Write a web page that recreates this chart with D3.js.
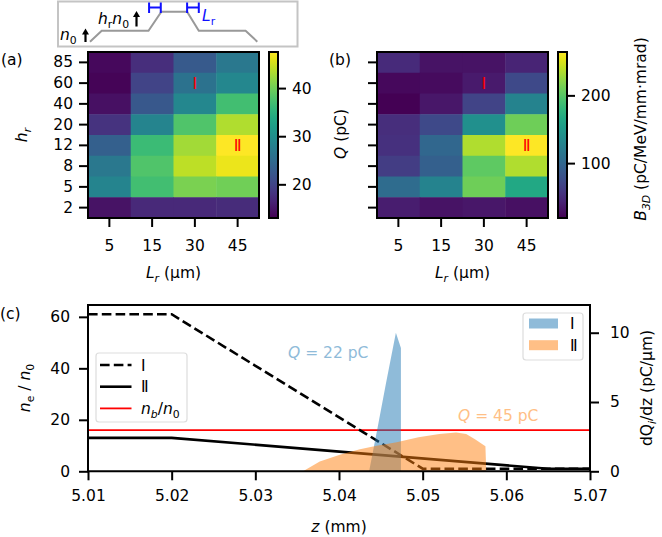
<!DOCTYPE html>
<html>
<head>
<meta charset="utf-8">
<script src="https://cdn.jsdelivr.net/npm/d3@7"></script>
<style>
  body { margin: 0; background: #fff; }
  svg text { font-family: "DejaVu Sans", sans-serif; fill: #000; }
</style>
</head>
<body>
<div id="chart"></div>
<script>
// ---- data ----
const lrLabels = ["5", "15", "30", "45"];
const hrLabels = ["85", "60", "40", "20", "12", "8", "5", "2"];
// rows follow hrLabels (top to bottom), columns follow lrLabels
const chargeQ = [
  [13.7, 17.5, 22.7, 26.8],
  [13.3, 20.0, 26.0, 29.0],
  [14.4, 22.3, 29.0, 37.0],
  [18.0, 28.5, 38.0, 43.4],
  [23.4, 36.5, 42.7, 47.5],
  [26.8, 38.0, 44.0, 46.5],
  [28.5, 37.0, 40.6, 40.0],
  [14.7, 17.0, 17.0, 17.3]
];
const brightness = [
  [48, 31, 31, 43],
  [24, 26, 36, 73],
  [19, 34, 68, 129],
  [51, 73, 141, 210],
  [53, 100, 235, 264],
  [63, 93, 203, 235],
  [105, 129, 210, 166],
  [39, 31, 34, 29]
];
const qDomain = [13, 47.5];
const bDomain = [19, 264];
const qTicks = [20, 30, 40];
const bTicks = [100, 200];
const cases = [
  {name: "\u2160", lr: "30", hr: "60"},
  {name: "\u2161", lr: "45", hr: "12"}
];

const zTicks = [5.01, 5.02, 5.03, 5.04, 5.05, 5.06, 5.07];
const neTicks = [0, 20, 40, 60];
const dqTicks = [0, 5, 10];
const zProfileI = [5.01, 5.02, 5.05, 5.07];
const neProfileI = [61, 61, 1, 1];
const zProfileII = [5.01, 5.02, 5.065, 5.07];
const neProfileII = [13, 13, 1, 1];
const nbRatio = 16;
const zBeamI = [5.0436, 5.0446, 5.0456, 5.0468, 5.0474, 5.0474];
const dqBeamI = [0, 3.1, 6.3, 10.0, 8.9, 0];
const zBeamII = [5.0357, 5.0377, 5.0401, 5.0425, 5.0445, 5.0469, 5.0495, 5.0520, 5.0540, 5.0552, 5.0563, 5.0575, 5.0576];
const dqBeamII = [0, 0.7, 1.2, 1.6, 1.85, 2.1, 2.45, 2.7, 2.8, 2.7, 2.3, 1.8, 0];
const chargeI = 22, chargeII = 45;

// schematic density profile for the inset (arbitrary units)
const schemX = [0, 1, 5, 6.1, 8.3, 9.3, 13.3, 14.3];
const schemY = [0, 1, 1, 2.73, 2.73, 1, 1, 0];

// ---- setup ----
const W = 662, H = 537;
const FS = 15.5;
const svg = d3.select("#chart").append("svg")
    .attr("width", W).attr("height", H);
svg.append("rect").attr("width", W).attr("height", H).attr("fill", "#fff");

// rich text: parts = [[text, flags]] flags: i italic, s subscript
function rich(txt, parts, size) {
  let down = false;
  parts.forEach(p => {
    const ts = txt.append("tspan").text(p[0]);
    const f = p[1] || "";
    if (f.includes("i")) ts.attr("font-style", "italic");
    if (f.includes("s")) {
      ts.attr("font-size", size * 0.7);
      if (!down) { ts.attr("dy", size * 0.25); down = true; }
    } else if (down) {
      ts.attr("dy", -size * 0.25); down = false;
    }
  });
  return txt;
}

function styleAxis(g) {
  g.selectAll("path.domain").remove();
  g.selectAll(".tick line").attr("stroke", "#000").attr("stroke-width", 2);
  g.selectAll(".tick text").attr("font-size", FS).attr("fill", "#000")
    .style("font-family", '"DejaVu Sans", sans-serif');
}

// ---- heatmaps ----
function heatmap(cfg) {
  const x = d3.scaleBand().domain(lrLabels).range([cfg.x0, cfg.x1]);
  const y = d3.scaleBand().domain(hrLabels).range([cfg.y0, cfg.y1]);
  const color = d3.scaleSequential(d3.interpolateViridis).domain(cfg.domain);

  const cells = [];
  cfg.values.forEach((row, i) => row.forEach((v, j) => cells.push({hr: hrLabels[i], lr: lrLabels[j], v})));

  const g = svg.append("g");
  g.selectAll("rect.cell").data(cells).join("rect")
      .attr("class", "cell")
      .attr("x", d => x(d.lr)).attr("y", d => y(d.hr))
      .attr("width", x.bandwidth() + 0.5).attr("height", y.bandwidth() + 0.5)
      .attr("fill", d => color(d.v));

  g.selectAll("text.case").data(cases).join("text")
      .attr("class", "case")
      .attr("x", d => x(d.lr) + x.bandwidth() / 2)
      .attr("y", d => y(d.hr) + y.bandwidth() / 2)
      .attr("dy", "0.36em")
      .attr("text-anchor", "middle")
      .attr("font-size", 16)
      .style("fill", "red")
      .text(d => d.name);

  g.append("rect")
      .attr("x", cfg.x0).attr("y", cfg.y0)
      .attr("width", cfg.x1 - cfg.x0).attr("height", cfg.y1 - cfg.y0)
      .attr("fill", "none").attr("stroke", "#000").attr("stroke-width", 2);

  g.append("g").attr("transform", `translate(0,${cfg.y1})`)
      .call(d3.axisBottom(x).tickSize(9).tickPadding(13))
      .call(styleAxis);
  const ya = d3.axisLeft(y).tickSize(9).tickPadding(6);
  if (!cfg.yLabels) ya.tickFormat("");
  g.append("g").attr("transform", `translate(${cfg.x0},0)`)
      .call(ya).call(styleAxis);

  rich(g.append("text")
      .attr("x", (cfg.x0 + cfg.x1) / 2).attr("y", 278)
      .attr("text-anchor", "middle").attr("font-size", FS),
    [["L", "i"], ["r", "is"], [" (\u03bcm)"]], FS);

  // colorbar
  const gid = "grad" + cfg.id;
  const grad = svg.append("defs").append("linearGradient")
      .attr("id", gid).attr("x1", 0).attr("y1", 1).attr("x2", 0).attr("y2", 0);
  grad.selectAll("stop").data(d3.range(0, 1.001, 0.05)).join("stop")
      .attr("offset", d => d).attr("stop-color", d => d3.interpolateViridis(d));
  svg.append("rect")
      .attr("x", cfg.cx0).attr("y", cfg.y0)
      .attr("width", cfg.cx1 - cfg.cx0).attr("height", cfg.y1 - cfg.y0)
      .attr("fill", `url(#${gid})`).attr("stroke", "#000").attr("stroke-width", 2);
  const cy = d3.scaleLinear().domain(cfg.domain).range([cfg.y1, cfg.y0]);
  svg.append("g").attr("transform", `translate(${cfg.cx1},0)`)
      .call(d3.axisRight(cy).tickValues(cfg.ticks).tickSize(8).tickPadding(6))
      .call(styleAxis);
}

heatmap({id: "a", x0: 88, x1: 259, y0: 52, y1: 218, cx0: 269, cx1: 278,
  values: chargeQ, domain: qDomain, ticks: qTicks, yLabels: true});
heatmap({id: "b", x0: 377, x1: 548, y0: 52, y1: 218, cx0: 558, cx1: 567,
  values: brightness, domain: bDomain, ticks: bTicks, yLabels: false});

// heatmap labels
rich(svg.append("text").attr("transform", "translate(27,135) rotate(-90)")
    .attr("text-anchor", "middle").attr("font-size", FS), [["h", "i"], ["r", "is"]], FS);
rich(svg.append("text").attr("transform", "translate(346,134) rotate(-90)")
    .attr("text-anchor", "middle").attr("font-size", FS), [["Q", "i"], [" (pC)"]], FS);
rich(svg.append("text").attr("transform", "translate(646,129) rotate(-90)")
    .attr("text-anchor", "middle").attr("font-size", FS),
  [["B", "i"], ["3D", "is"], [" (pC/MeV/mm\u00b7mrad)"]], FS);
svg.append("text").attr("x", 1).attr("y", 65).attr("font-size", FS).text("(a)");
svg.append("text").attr("x", 329).attr("y", 65).attr("font-size", FS).text("(b)");
svg.append("text").attr("x", 0).attr("y", 319).attr("font-size", FS).text("(c)");

// ---- inset schematic ----
const ins = svg.append("g");
ins.append("rect").attr("x", 58).attr("y", 1.5).attr("width", 239.5).attr("height", 45)
    .attr("fill", "#fff").attr("stroke", "#c4c4c4").attr("stroke-width", 2);
const sx = d3.scaleLinear().domain([0, 14.3]).range([90, 257.3]);
const sy = d3.scaleLinear().domain([0, 2.73]).range([41.7, 11.7]);
ins.append("path")
    .attr("d", d3.line().x((d, i) => sx(schemX[i])).y(d => sy(d))(schemY))
    .attr("fill", "none").attr("stroke", "#999").attr("stroke-width", 2);
function upArrow(x, y0, y1) {
  ins.append("line").attr("x1", x).attr("x2", x).attr("y1", y0).attr("y2", y1 + 5)
      .attr("stroke", "#000").attr("stroke-width", 2.2);
  ins.append("path").attr("d", `M${x - 3.5},${y1 + 6}L${x},${y1}L${x + 3.5},${y1 + 6}Z`).attr("fill", "#000");
}
rich(ins.append("text").attr("x", 60).attr("y", 40).attr("font-size", FS), [["n", "i"], ["0", "s"]], FS);
upArrow(85.5, 42, 28.5);
rich(ins.append("text").attr("x", 98).attr("y", 24).attr("font-size", FS),
  [["h", "i"], ["r", "s"], ["n", "i"], ["0", "s"]], FS);
upArrow(136.5, 26.5, 11);
function bracket(xa, xb) {
  ins.append("path").attr("d", `M${xa},2.5V13M${xa},7.5H${xb}M${xb},2.5V13`)
      .attr("fill", "none").attr("stroke", "#1010ff").attr("stroke-width", 2);
}
bracket(sx(5.05), sx(6.05));
bracket(sx(8.3), sx(9.3));
rich(ins.append("text").attr("x", 202).attr("y", 21).attr("font-size", FS).style("fill", "#1010ff"),
  [["L", "i"], ["r", "s"]], FS);
ins.selectAll("tspan").style("fill", function() { return d3.select(this.parentNode).style("fill"); });

// ---- bottom panel ----
const bx0 = 88, bx1 = 590, by0 = 305, by1 = 471.3;
const z = d3.scaleLinear().domain([5.01, 5.07]).range([bx0, bx1]);
const yl = d3.scaleLinear().domain([0, 64.6]).range([by1, by0]);
const yr = d3.scaleLinear().domain([0, 12]).range([by1, by0]);

const bp = svg.append("g");
const lineL = (zs) => d3.line().x((d, i) => z(zs[i])).y(d => yl(d));
bp.append("line").attr("x1", bx0).attr("x2", bx1).attr("y1", yl(nbRatio)).attr("y2", yl(nbRatio))
    .attr("stroke", "#ff0000").attr("stroke-width", 1.8);
bp.append("path").attr("d", lineL(zProfileII)(neProfileII))
    .attr("fill", "none").attr("stroke", "#000").attr("stroke-width", 2.6);
bp.append("path").attr("d", lineL(zProfileI)(neProfileI))
    .attr("fill", "none").attr("stroke", "#000").attr("stroke-width", 2.6)
    .attr("stroke-dasharray", "9.6,4.2");

const areaR = (zs) => d3.area().x((d, i) => z(zs[i])).y0(yr(0)).y1(d => yr(d));
bp.append("path").attr("d", areaR(zBeamI)(dqBeamI)).attr("fill", "#1f77b4").attr("fill-opacity", 0.5);
bp.append("path").attr("d", areaR(zBeamII)(dqBeamII)).attr("fill", "#ff7f0e").attr("fill-opacity", 0.5);

// annotations
rich(bp.append("text").attr("x", 288).attr("y", 357.5).attr("font-size", FS)
    .style("fill", "#8fbbd9"), [["Q", "i"], [` = ${chargeI} pC`]], FS);
rich(bp.append("text").attr("x", 458).attr("y", 420.5).attr("font-size", FS)
    .style("fill", "#ffbf86"), [["Q", "i"], [` = ${chargeII} pC`]], FS);
bp.selectAll("text tspan").style("fill", function() { return d3.select(this.parentNode).style("fill"); });

// axes
bp.append("path").attr("d", `M${bx0},${by0}H${bx1}V${by1}H${bx0}Z`)
    .attr("fill", "none").attr("stroke", "#000").attr("stroke-width", 2);
bp.append("g").attr("transform", `translate(0,${by1})`)
    .call(d3.axisBottom(z).tickValues(zTicks).tickFormat(d3.format(".2f")).tickSize(9).tickPadding(10))
    .call(styleAxis);
bp.append("g").attr("transform", `translate(${bx0},0)`)
    .call(d3.axisLeft(yl).tickValues(neTicks).tickSize(9).tickPadding(9))
    .call(styleAxis);
bp.append("g").attr("transform", `translate(${bx1},0)`)
    .call(d3.axisRight(yr).tickValues(dqTicks).tickSize(9).tickPadding(11))
    .call(styleAxis);

rich(bp.append("text").attr("x", (bx0 + bx1) / 2).attr("y", 532).attr("text-anchor", "middle").attr("font-size", FS),
  [["z", "i"], [" (mm)"]], FS);
rich(bp.append("text").attr("transform", "translate(30,388) rotate(-90)").attr("text-anchor", "middle").attr("font-size", FS),
  [["n", "i"], ["e", "s"], [" / "], ["n", "i"], ["0", "s"]], FS);
rich(bp.append("text").attr("transform", "translate(652,388) rotate(-90)").attr("text-anchor", "middle").attr("font-size", FS),
  [["dQ"], ["i", "is"], ["/dz (pC/\u03bcm)"]], FS);

// legend left
const lg = bp.append("g");
lg.append("rect").attr("x", 96).attr("y", 353).attr("width", 91).attr("height", 69).attr("rx", 3)
    .attr("fill", "#fff").attr("fill-opacity", 0.8).attr("stroke", "#ddd").attr("stroke-width", 1.2);
const legL = [
  {label: [["\u2160"]], stroke: "#000", dash: "9.6,4.2", w: 2.6},
  {label: [["\u2161"]], stroke: "#000", dash: null, w: 2.6},
  {label: [["n", "i"], ["b", "is"], ["/"], ["n", "i"], ["0", "s"]], stroke: "#ff0000", dash: null, w: 1.8}
];
legL.forEach((d, i) => {
  const yy = 365 + i * 21.7;
  lg.append("line").attr("x1", 100).attr("x2", 131.5).attr("y1", yy).attr("y2", yy)
      .attr("stroke", d.stroke).attr("stroke-width", d.w).attr("stroke-dasharray", d.dash);
  rich(lg.append("text").attr("x", 141).attr("y", yy).attr("dy", "0.36em").attr("font-size", FS), d.label, FS);
});

// legend right
const lr = bp.append("g");
lr.append("rect").attr("x", 523).attr("y", 313).attr("width", 60).attr("height", 47).attr("rx", 3)
    .attr("fill", "#fff").attr("fill-opacity", 0.8).attr("stroke", "#ddd").attr("stroke-width", 1.2);
const legR = [{label: "\u2160", fill: "#1f77b4"}, {label: "\u2161", fill: "#ff7f0e"}];
legR.forEach((d, i) => {
  const yy = 323.5 + i * 21.7;
  lr.append("rect").attr("x", 529).attr("y", yy - 5).attr("width", 29).attr("height", 10)
      .attr("fill", d.fill).attr("fill-opacity", 0.5);
  lr.append("text").attr("x", 570).attr("y", yy).attr("dy", "0.36em").attr("font-size", FS).text(d.label);
});
</script>
</body>
</html>
